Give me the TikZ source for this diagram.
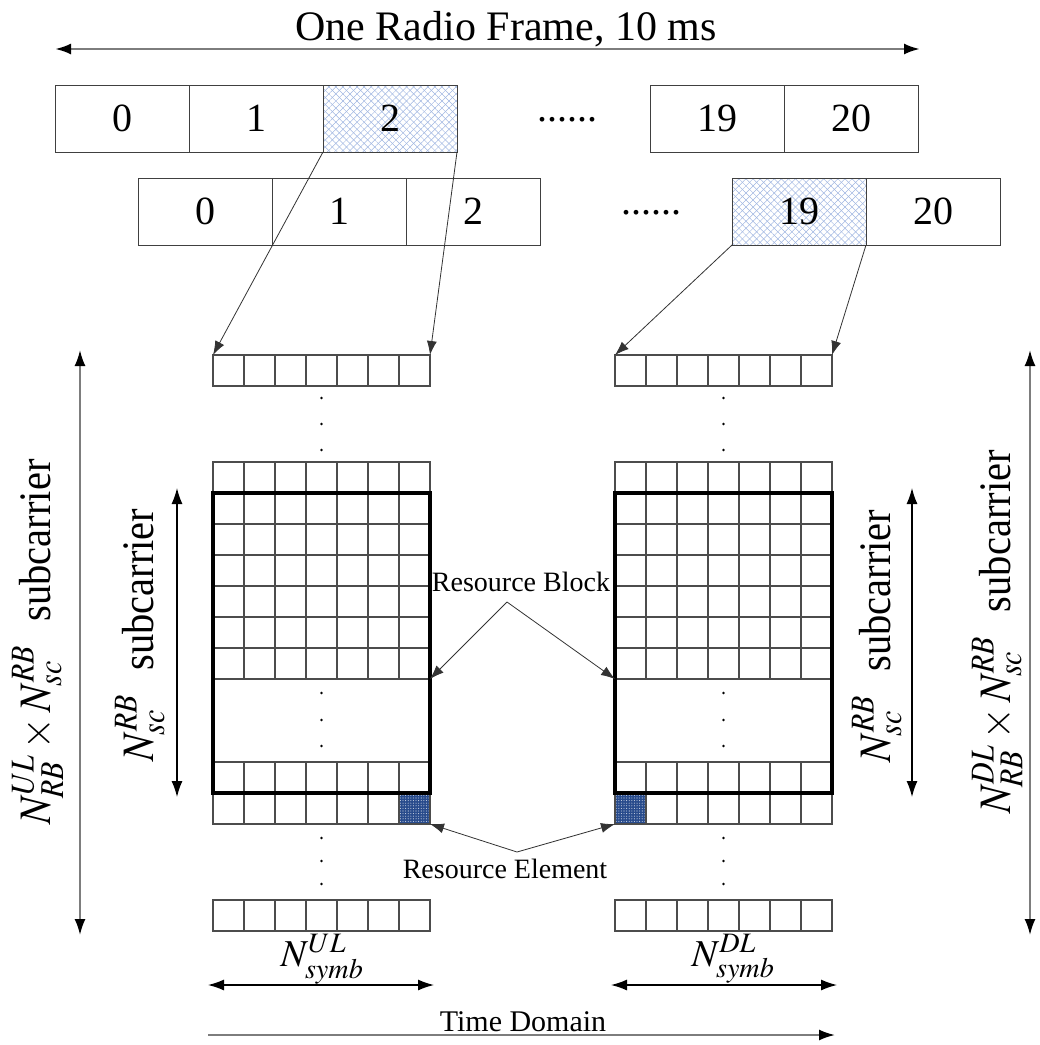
\documentclass[tikz,border=0pt]{standalone}
\usepackage{mathptmx}
\usepackage{fontspec}
\setmainfont{Liberation Serif}
\usetikzlibrary{positioning, arrows.meta, patterns.meta}
\definecolor{hatchBlue}{RGB}{160, 182, 225}
\definecolor{reBlue}{RGB}{40, 75, 140}
\definecolor{lineGray}{RGB}{125, 125, 125}

\begin{document}
\begin{tikzpicture}[x=1pt, y=-1pt,
          slot/.style={draw=black!75, line width=1pt, minimum width=134pt,
                       minimum height=67pt, inner sep=0pt, outer sep=0pt,
                       font=\fontsize{40}{44}\selectfont},
          hatch/.style={preaction={pattern={Lines[angle=45,distance=5pt,line width=0.5pt]},
                                   pattern color=hatchBlue},
                        pattern={Lines[angle=-45,distance=5pt,line width=0.5pt]},
                        pattern color=hatchBlue},
          relem/.style={preaction={fill=reBlue},
                        pattern={Dots[distance=2.6pt,radius=0.55pt]},
                        pattern color=white!75!reBlue},
          cell/.style={draw=black!70, line width=1.1pt},
          rbox/.style={draw=black, line width=4pt},
          arr/.style={-{Latex[length=14pt,width=10pt]}, draw=black!80, line width=0.8pt},
          dim/.style={{Latex[length=16pt,width=11pt,color=black]}-{Latex[length=16pt,width=11pt,color=black]},
                      draw=lineGray, line width=2pt},
          tarr/.style={-{Latex[length=16pt,width=11pt,color=black]}, draw=lineGray, line width=2pt},
          lbl/.style={font=\fontsize{28}{32}\selectfont},
          dotrow/.style={anchor=base, font=\fontsize{40}{44}\selectfont},
          side/.style={rotate=90, anchor=base, font=\fontsize{45}{50}\selectfont},
          symb/.style={anchor=base, font=\fontsize{38}{42}\selectfont}]
        \useasboundingbox (0,0) rectangle (1040,1045);

        \node[font=\fontsize{42}{46}\selectfont, anchor=base] (title) at (506,40) {One Radio Frame, 10 ms};
        \draw[dim, line width=2.6pt] (55,49) -- (920,49);

        \node[slot] (a0) at (122,118.5) {0};
        \node[slot, right=0pt of a0] (a1) {1};
        \node[slot, hatch, right=0pt of a1] (a2) {2};
        \node[dotrow] (adots) at (567,121) {......};
        \node[slot] (a19) at (717,118.5) {19};
        \node[slot, right=0pt of a19] (a20) {20};

        \node[slot] (b0) at (205,211.5) {0};
        \node[slot, right=0pt of b0] (b1) {1};
        \node[slot, right=0pt of b1] (b2) {2};
        \node[dotrow] (bdots) at (651,214) {......};
        \node[slot, hatch] (b19) at (799,211.5) {19};
        \node[slot, right=0pt of b19] (b20) {20};

        \foreach \gx in {213,615}
          \foreach \ry in {355,462,493,524,555,586,617,648,762,793,900}
            \foreach \c in {0,...,6}
              \draw[cell] ({\gx+31*\c},\ry) rectangle +(31,31);
        \draw[cell, relem] (399,793) rectangle +(31,31);
        \draw[cell, relem] (615,793) rectangle +(31,31);
        \draw[rbox] (213,493) rectangle (430,793);
        \draw[rbox] (615,493) rectangle (832,793);
        \foreach \gx in {321.5,723.5}
          \foreach \dy in {398,424,450,693,720,746,838,861,884}
            \fill (\gx,\dy) circle (1.3);

        \coordinate (ulTL) at (213,355);
        \coordinate (ulTR) at (430,355);
        \coordinate (dlTL) at (615,355);
        \coordinate (dlTR) at (832,355);
        \draw[arr] (a2.south west) -- (ulTL);
        \draw[arr] (a2.south east) -- (ulTR);
        \draw[arr] (b19.south west) -- (dlTL);
        \draw[arr] (b19.south east) -- (dlTR);

        \node[lbl] (rb) at (521,582) {Resource Block};
        \coordinate (rbfork) at (507,602);
        \coordinate (ulRB) at (430,679);
        \coordinate (dlRB) at (615,679);
        \draw[arr] (rbfork) -- (ulRB);
        \draw[arr] (rbfork) -- (dlRB);

        \node[lbl] (re) at (505,869) {Resource Element};
        \coordinate (refork) at (517,852);
        \coordinate (ulRE) at (430,824);
        \coordinate (dlRE) at (615,824);
        \draw[arr] (refork) -- (ulRE);
        \draw[arr] (refork) -- (dlRE);

        \draw[dim] (80,350) -- (80,935);
        \node[side] (ulall) at (50,642) {\scalebox{0.9}[1]{$N^{UL}_{RB}\times N^{RB}_{sc}$\hspace{0.6em}subcarrier}};
        \draw[dim, draw=black, line width=1.3pt] (177,488) -- (177,797);
        \node[side] (ulsc) at (153,635) {\scalebox{0.9}[1]{$N^{RB}_{sc}$\hspace{0.6em}subcarrier}};
        \draw[dim, draw=black, line width=1.3pt] (912,488) -- (912,797);
        \node[side] (dlsc) at (890,636) {\scalebox{0.9}[1]{$N^{RB}_{sc}$\hspace{0.6em}subcarrier}};
        \draw[dim] (1030,350) -- (1030,935);
        \node[side] (dlall) at (1010,632) {\scalebox{0.9}[1]{$N^{DL}_{RB}\times N^{RB}_{sc}$\hspace{0.6em}subcarrier}};

        \node[symb] (ulsym) at (322,966) {$N^{UL}_{symb}$};
        \node[symb] (dlsym) at (733,966) {$N^{DL}_{symb}$};
        \draw[dim, draw=black, line width=1.3pt] (208,985) -- (434,985);
        \draw[dim, draw=black, line width=1.3pt] (611,985) -- (837,985);
        \node[lbl, font=\fontsize{30}{34}\selectfont, anchor=base] (time) at (523,1031) {Time Domain};
        \draw[tarr] (208,1035) -- (835,1035);
      \end{tikzpicture}
\end{document}
